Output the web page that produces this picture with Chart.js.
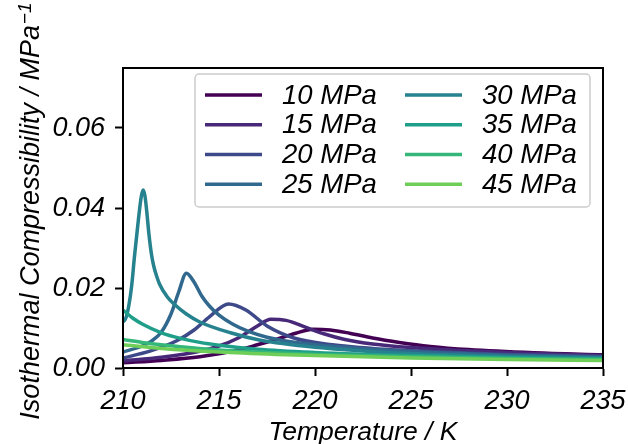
<!DOCTYPE html>
<html><head><meta charset="utf-8">
<script src="https://cdn.jsdelivr.net/npm/chart.js@4/dist/chart.umd.min.js"></script>
<style>html,body{margin:0;padding:0;background:#fff;}#wrap{width:628px;height:444px;}</style>
</head><body><div id="wrap"><canvas id="c" width="628" height="444"></canvas></div>
<script>
const labels = ['10 MPa','15 MPa','20 MPa','25 MPa','30 MPa','35 MPa','40 MPa','45 MPa'];
const colors = ['#440154','#482878','#3e4989','#31688e','#26828e','#1f9e89','#35b779','#6ece58'];

const t10 = [210,212,214,216,217,218,219,219.9,220.8,221.8,223,224.4,226,228,231.4,235];
const k10 = [0.0013,0.0019,0.0028,0.0045,0.0058,0.0072,0.0087,0.0097,0.0095,0.0087,0.0075,0.0064,0.0054,0.0046,0.0038,0.0033];

const t15 = [210,212,214,215,216,217,217.7,218.5,219.5,220.5,221.5,223,225,228,231,235];
const k15 = [0.0018,0.0027,0.0042,0.0055,0.0075,0.0105,0.0122,0.0119,0.0102,0.0085,0.0072,0.0060,0.0051,0.0043,0.0037,0.0031];

const t20 = [210,211.4,212.8,213.7,214.5,215.5,216.4,217.5,218.9,220.9,223,226,230,235];
const k20 = [0.0025,0.0042,0.0068,0.0095,0.0128,0.0160,0.0145,0.0105,0.0075,0.0058,0.0049,0.0041,0.0034,0.0029];

const t25 = [210,211,211.5,212,212.5,212.9,213.3,213.7,214.1,214.5,215,215.7,216.5,217.5,219,222,225,230,235];
const k25 = [0.0040,0.0055,0.0068,0.0090,0.0135,0.0190,0.0237,0.0215,0.0180,0.0155,0.0132,0.0110,0.0092,0.0077,0.0064,0.0050,0.0041,0.0032,0.0027];

const t30 = [210,210.15,210.3,210.45,210.6,210.8,210.95,211.05,211.15,211.25,211.35,211.48,211.6,211.75,211.9,212.3,212.7,213.3,214,215.6,217.1,220,225,230,235];
const k30 = [0.0115,0.0125,0.0155,0.0205,0.0280,0.0370,0.0428,0.0445,0.0428,0.0385,0.0335,0.0285,0.0255,0.0230,0.0210,0.0178,0.0158,0.0135,0.0115,0.0088,0.0070,0.0052,0.0036,0.0029,0.0025];

const t35 = [210,210.5,211,212,213,214,215,217,220,225,230,235];
const k35 = [0.0145,0.0125,0.0110,0.0088,0.0074,0.0064,0.0057,0.0047,0.0039,0.0031,0.0026,0.0023];

const t40 = [210,211,212,213,215,217,220,225,230,235];
const k40 = [0.0071,0.0064,0.0058,0.0053,0.0045,0.0040,0.0034,0.0028,0.0024,0.0021];

const t45 = [210,212,215,218,220,225,230,235];
const k45 = [0.0058,0.0049,0.0040,0.0034,0.0031,0.0025,0.0021,0.0019];

const xTicks = [210,215,220,225,230,235];
const yTicks = [0,0.02,0.04,0.06];
const xTitle = 'Temperature / K';
const yTitle = 'Isothermal Compressibility / MPa';
const yTitleSup = '\u22121';

const series = [[t10,k10],[t15,k15],[t20,k20],[t25,k25],[t30,k30],[t35,k35],[t40,k40],[t45,k45]];
const FONT = 'Liberation Sans, Arial, sans-serif';

const datasets = series.map((s,i)=>({
  label: labels[i],
  data: s[0].map((t,j)=>({x:t,y:s[1][j]})),
  borderColor: colors[i],
  backgroundColor: colors[i],
  borderWidth: 3.5,
  pointRadius: 0,
  fill: false,
  cubicInterpolationMode: 'monotone',
  order: series.length - i
}));

const deco = {
  id: 'deco',
  afterDatasetsDraw(chart){
    const ctx = chart.ctx;
    ctx.save();
    const bx=195, by=74, bw=395, bh=133, r=4;
    ctx.beginPath();
    ctx.roundRect(bx,by,bw,bh,r);
    ctx.fillStyle='rgba(255,255,255,0.8)';
    ctx.fill();
    ctx.strokeStyle='#cccccc';
    ctx.lineWidth=1.5;
    ctx.stroke();
    const rows=[95,124.7,154.5,184.3];
    const cols=[[205,262,282],[405,462,482]];
    ctx.font='italic 27.5px '+FONT;
    ctx.textBaseline='middle';
    ctx.textAlign='left';
    labels.forEach((lab,i)=>{
      const c=cols[Math.floor(i/4)], y=rows[i%4];
      ctx.beginPath();
      ctx.moveTo(c[0],y); ctx.lineTo(c[1],y);
      ctx.strokeStyle=colors[i]; ctx.lineWidth=3.5; ctx.stroke();
      ctx.fillStyle='#000';
      ctx.fillText(lab,c[2],y+1);
    });
    ctx.restore();
  },
  afterDraw(chart){
    const ctx=chart.ctx, a=chart.chartArea;
    ctx.save();
    ctx.strokeStyle='#000'; ctx.lineWidth=2;
    ctx.strokeRect(a.left,a.top,a.right-a.left,a.bottom-a.top);
    ctx.fillStyle='#000';
    ctx.font='italic 26.5px '+FONT;
    ctx.textAlign='center'; ctx.textBaseline='alphabetic';
    ctx.fillText(xTitle,(a.left+a.right)/2,440);
    ctx.translate(39,211);
    ctx.rotate(-Math.PI/2);
    ctx.font='italic 27px '+FONT;
    const w1=ctx.measureText(yTitle).width;
    ctx.font='italic 19px '+FONT;
    const w2=ctx.measureText(yTitleSup).width;
    const x0=-(w1+w2+1)/2;
    ctx.textAlign='left';
    ctx.font='italic 27px '+FONT;
    ctx.fillText(yTitle,x0,0);
    ctx.font='italic 19px '+FONT;
    ctx.fillText(yTitleSup,x0+w1+1,-8);
    ctx.restore();
  }
};

new Chart(document.getElementById('c'),{
  type:'line',
  data:{datasets},
  options:{
    responsive:false, animation:false, devicePixelRatio:1,
    layout:{padding:{left:0,right:25,top:68,bottom:0}},
    plugins:{legend:{display:false},tooltip:{enabled:false}},
    scales:{
      x:{type:'linear',min:210,max:235,
        afterBuildTicks:s=>{s.ticks=xTicks.map(v=>({value:v}));},
        afterFit:s=>{s.height=76;s.paddingLeft=0;s.paddingRight=0;},
        ticks:{color:'#000',font:{family:FONT,size:27,style:'italic'},padding:9,maxRotation:0,callback:v=>String(v)},
        grid:{drawOnChartArea:false,drawTicks:true,tickLength:8,tickWidth:2,color:'#000'},
        border:{display:true,color:'#000',width:2}
      },
      y:{type:'linear',min:0,max:0.075,
        afterBuildTicks:s=>{s.ticks=yTicks.map(v=>({value:v}));},
        afterFit:s=>{s.width=123;s.paddingTop=0;s.paddingBottom=0;},
        ticks:{color:'#000',font:{family:FONT,size:27,style:'italic'},padding:10,callback:v=>v.toFixed(2)},
        grid:{drawOnChartArea:false,drawTicks:true,tickLength:8,tickWidth:2,color:'#000'},
        border:{display:true,color:'#000',width:2}
      }
    }
  },
  plugins:[deco]
});
</script></body></html>
